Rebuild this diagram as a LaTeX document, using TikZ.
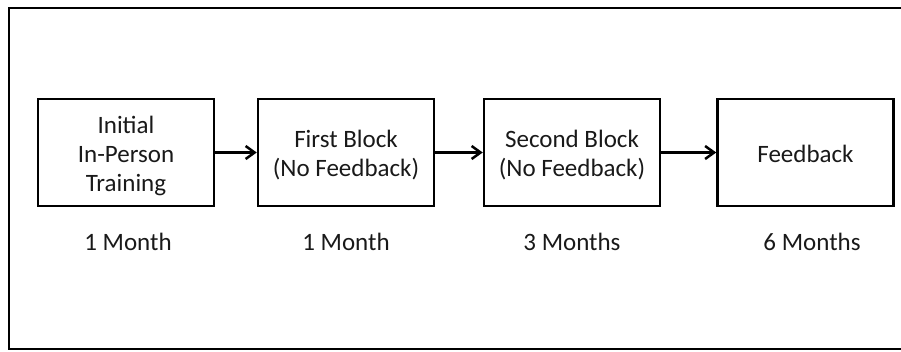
\documentclass[tikz,border=0pt]{standalone}
\usepackage{fontspec}
\setmainfont{Carlito}
\usetikzlibrary{arrows.meta}
% stage text, set a little below the middle of its box
\newcommand\stagetext[1]{\raisebox{-4pt}[\height][\depth]{\begin{tabular}{@{}c@{}}#1\end{tabular}}}
\begin{document}
\begin{tikzpicture}[x=1pt,y=-1pt,
  stagebox/.style={draw=black,line width=2.5pt,minimum width=176pt,minimum height=107pt,
    inner sep=0pt,font=\fontsize{25}{29}\selectfont,text=black!90},
  period/.style={font=\fontsize{25}{29}\selectfont,text=black!90},
  flow/.style={line width=2.5pt,-{Straight Barb[length=9pt,width=13pt,line width=2.5pt]}}]
  \useasboundingbox (0,0) rectangle (901,351);
  % outer frame (runs off the right edge)
  \draw[line width=2.5pt] (909,8) -- (9,8) -- (9,349) -- (909,349);
  % stages
  \node[stagebox] (s1) at (126,152.5) {\stagetext{Initial\\In-Person\\Training}};
  \node[stagebox] (s2) at (346,152.5) {\stagetext{First Block\\(No Feedback)}};
  \node[stagebox] (s3) at (572,152.5) {\stagetext{Second Block\\(No Feedback)}};
  \node[stagebox] (s4) at (805.5,152.5) {\stagetext{Feedback}};
  % durations
  \node[period] (d1) at (128,242) {1 Month};
  \node[period] (d2) at (346,242) {1 Month};
  \node[period] (d3) at (572,242) {3 Months};
  \node[period] (d4) at (812,242) {6 Months};
  % transitions
  \draw[flow] (s1) -- (s2);
  \draw[flow] (s2) -- (s3);
  \draw[flow] (s3) -- (s4);
\end{tikzpicture}
\end{document}
